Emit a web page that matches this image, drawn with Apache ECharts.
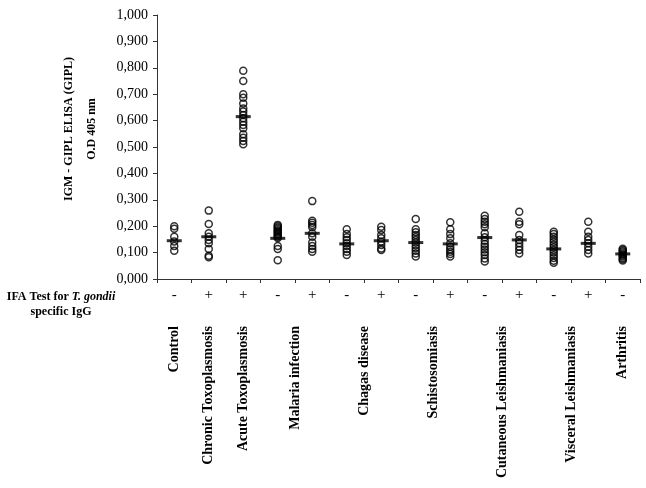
<!DOCTYPE html>
<html>
<head>
<meta charset="utf-8">
<script src="https://cdn.jsdelivr.net/npm/echarts@6/dist/echarts.min.js"></script>
<style>html,body{margin:0;padding:0;background:#fff}#c{width:646px;height:488px}</style>
</head>
<body>
<div id="c"></div>
<script>
// IFA sign for each column
var signs = ['-', '+', '+', '-', '+', '-', '+', '-', '+', '-', '+', '-', '+', '-'];
// group names and the half-step slot (0..28) where each is centred
var groupNames = ['Control', 'Chronic Toxoplasmosis', 'Acute Toxoplasmosis', 'Malaria infection', 'Chagas disease', 'Schistosomiasis', 'Cutaneous Leishmaniasis', 'Visceral Leishmaniasis', 'Arthritis'];
var groupSlots = [1, 3, 5, 8, 12, 16, 20, 24, 27];
var yTicks = [0, 0.1, 0.2, 0.3, 0.4, 0.5, 0.6, 0.7, 0.8, 0.9, 1.0];

var control    = [0.200, 0.190, 0.160, 0.142, 0.125, 0.107];
var chronic    = [0.259, 0.208, 0.173, 0.160, 0.148, 0.135, 0.114, 0.088, 0.082];
var acute      = [0.789, 0.750, 0.700, 0.687, 0.665, 0.646, 0.634, 0.621, 0.609, 0.596, 0.583, 0.571, 0.548, 0.535, 0.523, 0.510];
var malariaNeg = [0.205, 0.200, 0.195, 0.190, 0.185, 0.180, 0.175, 0.170, 0.165, 0.160, 0.155, 0.125, 0.114, 0.071];
var malariaPos = [0.295, 0.221, 0.213, 0.205, 0.196, 0.173, 0.160, 0.138, 0.125, 0.114, 0.103];
var chagasNeg  = [0.188, 0.170, 0.158, 0.148, 0.135, 0.125, 0.114, 0.103, 0.091];
var chagasPos  = [0.198, 0.186, 0.167, 0.154, 0.141, 0.129, 0.116, 0.110];
var schistoNeg = [0.227, 0.188, 0.177, 0.167, 0.158, 0.148, 0.138, 0.128, 0.117, 0.107, 0.097, 0.085];
var schistoPos = [0.215, 0.188, 0.170, 0.154, 0.135, 0.122, 0.112, 0.103, 0.095, 0.085];
var cutNeg     = [0.240, 0.227, 0.217, 0.207, 0.196, 0.173, 0.158, 0.145, 0.133, 0.122, 0.112, 0.101, 0.091, 0.078, 0.066];
var cutPos     = [0.255, 0.217, 0.207, 0.167, 0.148, 0.135, 0.122, 0.110, 0.097];
var viscNeg    = [0.179, 0.170, 0.160, 0.150, 0.140, 0.130, 0.120, 0.110, 0.100, 0.090, 0.080, 0.069, 0.062];
var viscPos    = [0.217, 0.179, 0.160, 0.148, 0.135, 0.122, 0.110, 0.097];
var arthritis  = [0.115, 0.110, 0.105, 0.100, 0.095, 0.090, 0.085, 0.080, 0.075, 0.070];
var means      = [0.145, 0.160, 0.615, 0.154, 0.173, 0.133, 0.145, 0.138, 0.133, 0.157, 0.148, 0.114, 0.135, 0.095];

var columns = [control, chronic, acute, malariaNeg, malariaPos, chagasNeg, chagasPos, schistoNeg, schistoPos, cutNeg, cutPos, viscNeg, viscPos, arthritis];

var pointData = [];
columns.forEach(function (col, i) { col.forEach(function (v) { pointData.push([i, v]); }); });
var meanData = means.map(function (v, i) { return [i, v]; });

var slotLabels = [];
for (var s = 0; s <= 28; s++) slotLabels.push('');
groupSlots.forEach(function (slot, i) { slotLabels[slot] = groupNames[i]; });

var FONT = "'Liberation Serif', 'Times New Roman', serif";

var chart = echarts.init(document.getElementById('c'), null, {renderer: 'canvas'});
chart.setOption({
  animation: false,
  backgroundColor: '#fff',
  grid: {left: 157, right: 6, top: 15, bottom: 209, containLabel: false},
  xAxis: [{
    type: 'category',
    data: signs,
    boundaryGap: true,
    axisLine: {show: true, lineStyle: {color: '#333', width: 1}},
    axisTick: {show: true, length: 4, inside: false, lineStyle: {color: '#333'}},
    axisLabel: {show: true, interval: 0, margin: 9, color: '#000', fontFamily: FONT, fontSize: 15},
    splitLine: {show: false}
  }, {
    type: 'category',
    data: slotLabels,
    boundaryGap: false,
    position: 'bottom',
    axisLine: {show: false},
    axisTick: {show: false},
    axisLabel: {show: true, interval: 0, rotate: 90, margin: 47, color: '#000', fontFamily: FONT, fontSize: 14, fontWeight: 'bold'},
    splitLine: {show: false}
  }],
  yAxis: {
    type: 'value',
    min: yTicks[0],
    max: yTicks[yTicks.length - 1],
    interval: 0.1,
    axisLine: {show: true, lineStyle: {color: '#333', width: 1}},
    axisTick: {show: true, length: 4, lineStyle: {color: '#333'}},
    axisLabel: {margin: 9, color: '#000', fontFamily: FONT, fontSize: 14,
      formatter: function (v) { return v.toFixed(3).replace('.', ','); }},
    splitLine: {show: false}
  },
  graphic: [{
    type: 'text',
    x: 80, y: 129,
    rotation: Math.PI / 2,
    style: {
      text: 'IGM - GIPL ELISA (GIPL)\nO.D 405 nm',
      align: 'center', verticalAlign: 'middle',
      font: 'bold 12px ' + FONT,
      lineHeight: 23,
      fill: '#000'
    }
  }, {
    type: 'text',
    x: 61, y: 304,
    style: {
      text: '{b|IFA Test for }{i|T. gondii}\n{b|specific IgG}',
      align: 'center', verticalAlign: 'middle',
      rich: {
        b: {fontFamily: FONT, fontWeight: 'bold', fontSize: 12, lineHeight: 15, fill: '#000'},
        i: {fontFamily: FONT, fontWeight: 'bold', fontStyle: 'italic', fontSize: 12, lineHeight: 15, fill: '#000'}
      }
    }
  }],
  series: [{
    type: 'scatter',
    xAxisIndex: 0,
    data: pointData,
    symbol: 'circle',
    symbolSize: 7,
    itemStyle: {color: 'rgba(0,0,0,0)', borderColor: '#000', borderWidth: 1.5},
    z: 2
  }, {
    type: 'scatter',
    xAxisIndex: 0,
    data: meanData,
    symbol: 'rect',
    symbolSize: [15, 3],
    itemStyle: {color: '#000'},
    z: 3
  }]
});
</script>
</body>
</html>
